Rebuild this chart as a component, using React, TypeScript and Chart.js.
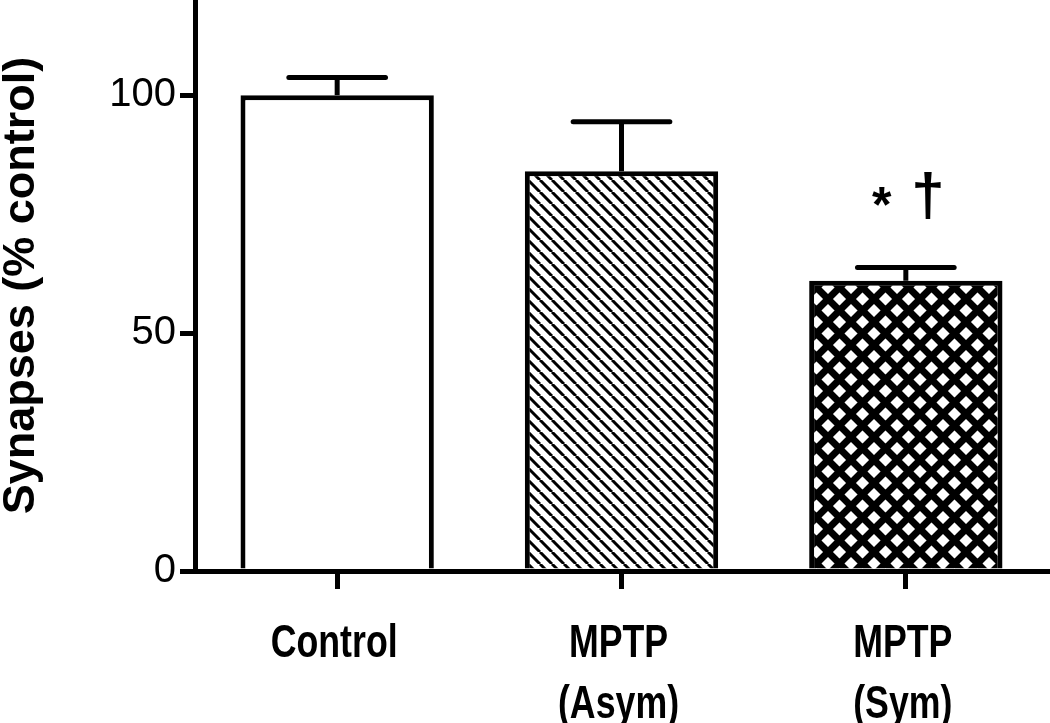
import React, { useEffect, useRef } from 'react';
import { Chart, registerables } from 'chart.js';

Chart.register(...registerables);

const categories: string[][] = [['Control'], ['MPTP', '(Asym)'], ['MPTP', '(Sym)']];
const meanValues: number[] = [100, 84, 61];
const semValues: number[] = [3.7, 10.4, 2.8];
const significanceMarks: string[][] = [[], [], ['*', '†']];
const yTicks: number[] = [0, 50, 100];
const yMin = 0;
const yMax = 120;
const yTitle = 'Synapses (% control)';

const SANS = '"Liberation Sans", Arial, Helvetica, sans-serif';

function makeHatch(): CanvasPattern | string {
  const s = 12;
  const c = document.createElement('canvas');
  c.width = s;
  c.height = s;
  const g = c.getContext('2d');
  if (!g) return '#888';
  g.fillStyle = '#fff';
  g.fillRect(0, 0, s, s);
  g.strokeStyle = '#000';
  g.lineWidth = 3;
  g.beginPath();
  for (const o of [-s, 0, s]) {
    g.moveTo(o, 0);
    g.lineTo(o + s, s);
  }
  g.stroke();
  return g.createPattern(c, 'repeat') || '#888';
}

function makeCross(): CanvasPattern | string {
  const s = 23;
  const c = document.createElement('canvas');
  c.width = s;
  c.height = s;
  const g = c.getContext('2d');
  if (!g) return '#444';
  g.fillStyle = '#fff';
  g.fillRect(0, 0, s, s);
  g.strokeStyle = '#000';
  g.lineWidth = 7;
  g.beginPath();
  for (const o of [-s, 0, s]) {
    g.moveTo(o, 0);
    g.lineTo(o + s, s);
    g.moveTo(o + s, 0);
    g.lineTo(o, s);
  }
  g.stroke();
  return g.createPattern(c, 'repeat') || '#444';
}

const errorBarPlugin = {
  id: 'errorBars',
  afterDatasetsDraw(chart: any) {
    const ctx: CanvasRenderingContext2D = chart.ctx;
    const meta = chart.getDatasetMeta(0);
    const yScale = chart.scales.y;
    ctx.save();
    ctx.strokeStyle = '#000';
    ctx.lineWidth = 5;
    meta.data.forEach((bar: any, i: number) => {
      const x = bar.x;
      const half = bar.width / 4;
      const yBase = yScale.getPixelForValue(meanValues[i]);
      const yTop = yScale.getPixelForValue(meanValues[i] + semValues[i]);
      ctx.lineCap = 'butt';
      ctx.beginPath();
      ctx.moveTo(x, yBase);
      ctx.lineTo(x, yTop);
      ctx.stroke();
      ctx.lineCap = 'round';
      ctx.beginPath();
      ctx.moveTo(x - half, yTop);
      ctx.lineTo(x + half, yTop);
      ctx.stroke();

      const marks = significanceMarks[i];
      if (marks && marks.length) {
        ctx.fillStyle = '#000';
        ctx.textAlign = 'center';
        ctx.textBaseline = 'alphabetic';
        const centerY = yTop - 71;
        const offsets = [-24, 22];
        const fonts = [`bold 50px ${SANS}`, `bold 60px ${SANS}`];
        marks.forEach((m, k) => {
          ctx.font = fonts[k % fonts.length];
          const mt = ctx.measureText(m);
          const h = mt.actualBoundingBoxAscent + mt.actualBoundingBoxDescent;
          const baseY = centerY - h / 2 + mt.actualBoundingBoxAscent;
          ctx.fillText(m, x + offsets[k % offsets.length], baseY);
        });
      }
    });
    ctx.restore();
  },
};

const narrowLabelPlugin = {
  id: 'narrowLabels',
  afterDraw(chart: any) {
    const ctx: CanvasRenderingContext2D = chart.ctx;
    const xScale = chart.scales.x;
    ctx.save();
    ctx.fillStyle = '#000';
    ctx.font = `bold 47px ${SANS}`;
    ctx.textAlign = 'center';
    ctx.textBaseline = 'alphabetic';
    categories.forEach((lines, i) => {
      const x = xScale.getPixelForValue(i) - 3;
      lines.forEach((line, k) => {
        ctx.save();
        ctx.translate(x, xScale.top + 86 + k * 61);
        ctx.scale(0.76, 1);
        ctx.fillText(line, 0, 0);
        ctx.restore();
      });
    });
    ctx.restore();
  },
};

export default function App() {
  const ref = useRef<HTMLCanvasElement | null>(null);

  useEffect(() => {
    const canvas = ref.current;
    if (!canvas) return;
    const fills = ['#ffffff', makeHatch(), makeCross()];
    const chart = new Chart(canvas, {
      type: 'bar',
      data: {
        labels: categories.map((l) => l.join(' ')),
        datasets: [
          {
            data: meanValues,
            backgroundColor: fills as any,
            borderColor: '#000',
            borderWidth: 5,
            barPercentage: 0.68,
            categoryPercentage: 1,
          },
        ],
      },
      options: {
        responsive: false,
        animation: false,
        layout: { padding: { left: 0, right: 2, top: 0, bottom: 0 } },
        plugins: { legend: { display: false }, tooltip: { enabled: false } },
        scales: {
          x: {
            offset: true,
            grid: {
              display: true,
              drawOnChartArea: false,
              drawTicks: true,
              tickLength: 18,
              lineWidth: 5,
              color: '#000',
              offset: false,
            },
            border: { display: true, width: 5, color: '#000' },
            ticks: { display: false },
            afterFit: (s: any) => {
              s.height = 152;
              s.paddingLeft = 0;
              s.paddingRight = 0;
            },
          },
          y: {
            min: yMin,
            max: yMax,
            afterBuildTicks: (s: any) => {
              s.ticks = yTicks.map((v) => ({ value: v }));
            },
            grid: {
              display: true,
              drawOnChartArea: false,
              drawTicks: true,
              tickLength: 15,
              lineWidth: 5,
              color: '#000',
            },
            border: { display: true, width: 5, color: '#000' },
            ticks: {
              color: '#000',
              padding: 4,
              font: { family: SANS, size: 40 },
            },
            title: {
              display: true,
              text: yTitle,
              color: '#000',
              font: { family: SANS, weight: 'bold', size: 45 },
              padding: { top: -5, bottom: 0 },
            },
            afterFit: (s: any) => {
              s.width = 195;
              s.paddingTop = 0;
              s.paddingBottom = 0;
            },
          },
        },
      } as any,
      plugins: [errorBarPlugin, narrowLabelPlugin],
    });
    return () => chart.destroy();
  }, []);

  return (
    <div style={{ position: 'fixed', left: 0, top: 0, width: 1050, height: 723, background: '#fff' }}>
      <canvas ref={ref} width={1050} height={723} style={{ display: 'block', width: 1050, height: 723 }} />
    </div>
  );
}
